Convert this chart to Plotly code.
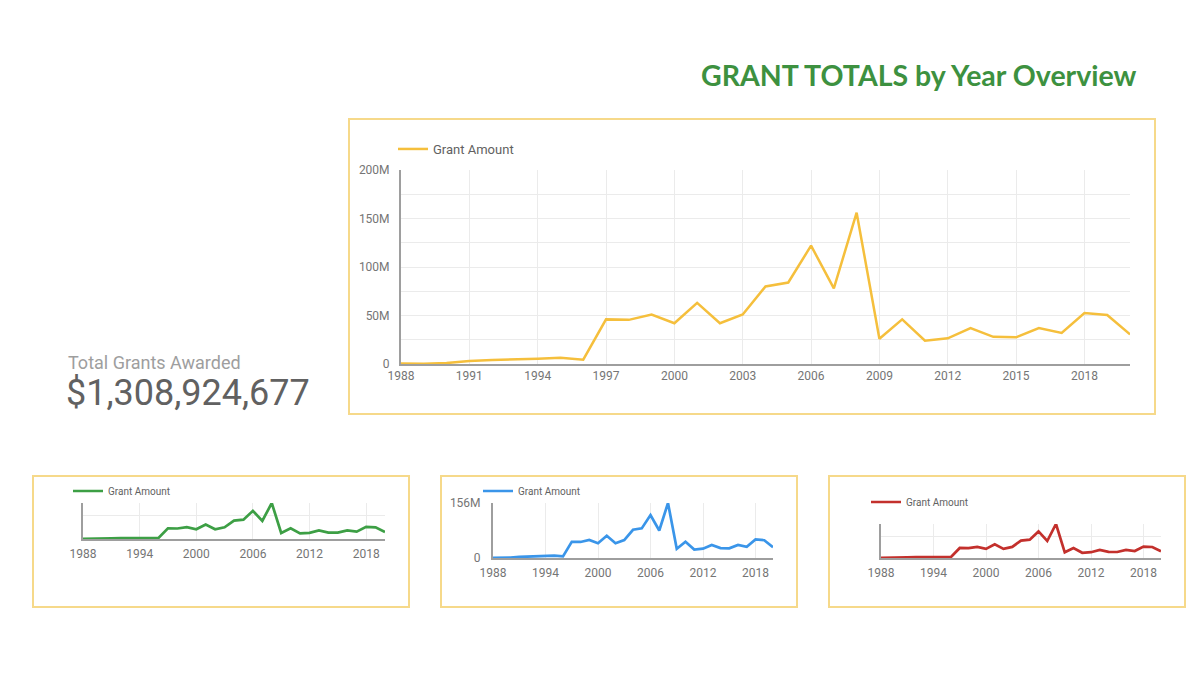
import plotly.graph_objects as go

# ---------------- data ----------------
years = list(range(1988, 2021))
grant_amount_m = [0.5, 0.3, 1.0, 3.0, 4.0, 4.5, 5.5, 6.5, 4.5,
                  46, 45.5, 51, 42, 63, 42, 51, 80, 84,
                  122, 78, 156,
                  26, 46, 24, 26.5, 37, 28, 27.5, 37, 32, 52.5, 50.5, 30.5]
series_name = "Grant Amount"

main_ytick_vals = [0, 50, 100, 150, 200]
main_ytick_text = ["0", "50M", "100M", "150M", "200M"]
main_xtick_vals = list(range(1988, 2019, 3))
small_xtick_vals = list(range(1988, 2019, 6))
blue_ytick_vals = [0, 156]
blue_ytick_text = ["0", "156M"]
small_grid_vals = [100, 156]

title_text = "GRANT TOTALS by Year Overview"
total_caption = "Total Grants Awarded"
total_value = "$1,308,924,677"

# ---------------- layout helpers ----------------
W, H = 1200, 675
def px(x):
    return x / W
def py(y):
    return 1 - y / H

FONT = "Roboto, Arial, sans-serif"
TICK_COLOR = "#757575"
GRID = "#ebebeb"
AXIS = "#9e9e9e"
BOX = "#f6d98a"

panels = [
    dict(key="", color="#f5bf3c", x0=401, x1=1130, ytop=170, ybot=364, yr=[0, 200],
         legend="legend", lx=393, ly=149, lsize=13, box=(349, 119, 1155, 414), lw=2.5),
    dict(key="2", color="#3d9f45", x0=83, x1=385, ytop=503, ybot=539, yr=[0, 156],
         legend="legend2", lx=68, ly=491, lsize=10, box=(33, 476, 409, 607), lw=2.7),
    dict(key="3", color="#3a95e9", x0=493, x1=773, ytop=503, ybot=558, yr=[0, 156],
         legend="legend3", lx=478, ly=491, lsize=10, box=(441, 476, 797, 607), lw=2.7),
    dict(key="4", color="#c3302c", x0=881, x1=1161, ytop=524, ybot=558, yr=[0, 156],
         legend="legend4", lx=866, ly=502, lsize=10, box=(829, 476, 1185, 607), lw=2.7),
]

fig = go.Figure()
layout = dict(
    width=W, height=H, autosize=False,
    margin=dict(l=0, r=0, t=0, b=0, pad=0, autoexpand=False),
    paper_bgcolor="white", plot_bgcolor="white",
    font=dict(family=FONT, color=TICK_COLOR),
    shapes=[], annotations=[],
)

for i, p in enumerate(panels):
    k = p["key"]
    fig.add_trace(go.Scatter(
        x=years, y=grant_amount_m, mode="lines", name=series_name,
        line=dict(color=p["color"], width=p["lw"]),
        xaxis="x" + k, yaxis="y" + k, legend=p["legend"], showlegend=True,
    ))
    main = (i == 0)
    xa = dict(
        domain=[px(p["x0"]), px(p["x1"])], range=[1988, 2020], anchor="y" + k,
        tickmode="array", tickvals=main_xtick_vals if main else small_xtick_vals,
        showgrid=True, gridcolor=GRID, gridwidth=1,
        showline=True, linecolor=AXIS, linewidth=2, zeroline=False,
        tickfont=dict(size=12, color=TICK_COLOR, family=FONT), ticks="",
        fixedrange=True, automargin=False,
        ticklabelstandoff=0 if main else 3,
    )
    ya = dict(
        domain=[py(p["ybot"]), py(p["ytop"])], range=p["yr"], anchor="x" + k,
        showgrid=True, gridcolor=GRID, gridwidth=1,
        showline=True, linecolor=AXIS, linewidth=2, zeroline=False,
        tickfont=dict(size=12, color=TICK_COLOR, family=FONT), ticks="",
        fixedrange=True, automargin=False,
    )
    if main:
        ya.update(tickmode="array", tickvals=main_ytick_vals, ticktext=main_ytick_text,
                  ticklabelstandoff=7,
                  minor=dict(tickmode="linear", tick0=0, dtick=25, showgrid=True,
                             gridcolor=GRID, gridwidth=1, ticks=""))
    elif k == "3":
        ya.update(tickmode="array", tickvals=blue_ytick_vals, ticktext=blue_ytick_text,
                  ticklabelstandoff=8)
    else:
        ya.update(tickmode="array", tickvals=small_grid_vals, showticklabels=False)
    layout["xaxis" + k] = xa
    layout["yaxis" + k] = ya
    layout[p["legend"]] = dict(
        x=px(p["lx"]), y=py(p["ly"]), xanchor="left", yanchor="middle",
        orientation="h", bgcolor="rgba(0,0,0,0)", borderwidth=0,
        itemwidth=30, font=dict(size=p["lsize"], color="#616161", family=FONT),
    )
    bx0, by0, bx1, by1 = p["box"]
    layout["shapes"].append(dict(
        type="rect", xref="paper", yref="paper",
        x0=px(bx0), y0=py(by1), x1=px(bx1), y1=py(by0),
        line=dict(color=BOX, width=2), fillcolor="rgba(0,0,0,0)", layer="below",
    ))

layout["annotations"] = [
    dict(text=title_text, xref="paper", yref="paper", x=px(1139), y=py(75),
         xanchor="right", yanchor="middle", showarrow=False,
         font=dict(family="Lato, sans-serif", size=28.5, color="#3d9140", weight="bold")),
    dict(text=total_caption, xref="paper", yref="paper", x=px(66), y=py(362),
         xanchor="left", yanchor="middle", showarrow=False,
         font=dict(family=FONT, size=18, color="#9e9e9e")),
    dict(text=total_value, xref="paper", yref="paper", x=px(64), y=py(393),
         xanchor="left", yanchor="middle", showarrow=False,
         font=dict(family=FONT, size=36, color="#616161")),
]

fig.update_layout(**layout)
fig.write_html(
    "out.html",
    config={"displayModeBar": False},
    post_script="document.body.style.margin='0';document.body.style.padding='0';"
                "document.documentElement.style.overflow='hidden';",
)
